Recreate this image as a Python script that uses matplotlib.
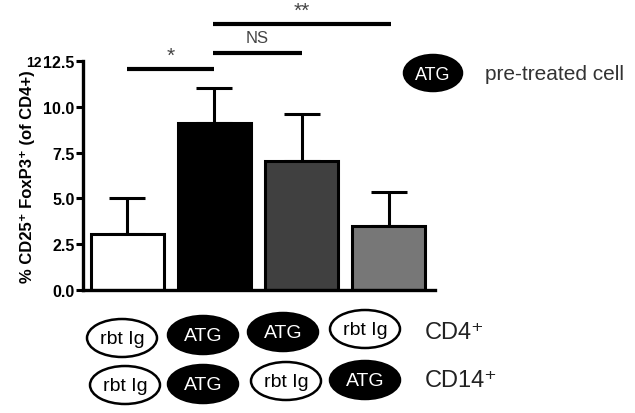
import numpy as np
import matplotlib.pyplot as plt
from matplotlib.patches import Ellipse

plt.rcParams['font.family'] = ['Liberation Sans', 'DejaVu Sans']

# data
means = [3.05, 9.1, 7.05, 3.5]
sems = [2.0, 1.95, 2.55, 1.85]
bar_colors = ['white', 'black', '#404040', '#777777']
cd4_treat = ['rbt Ig', 'ATG', 'ATG', 'rbt Ig']
cd14_treat = ['rbt Ig', 'ATG', 'rbt Ig', 'ATG']
yticks = [0.0, 2.5, 5.0, 7.5, 10.0, 12.5]

# significance brackets: (x start, x end, y, label)
sig = [(0, 1, 12.05, '*'), (0.98, 2.0, 12.95, 'NS'), (0.98, 3.03, 14.5, '**')]

fig = plt.figure(figsize=(6.35, 4.14), dpi=100)
ax = fig.add_axes([0.1307, 0.2971, 0.554, 0.553])
ax.patch.set_visible(False)

x = np.arange(len(means))
ax.errorbar(x, means, yerr=[np.zeros(len(sems)), sems], fmt='none', ecolor='black',
            elinewidth=2.2, capsize=13, capthick=2.2, zorder=1)
ax.bar(x, means, width=0.84, color=bar_colors, edgecolor='black', linewidth=2.2, zorder=2)

ax.set_xlim(-0.51, 3.53)
ax.set_ylim(0, 12.5)
ax.set_yticks(yticks)
ax.set_yticklabels(['%.1f' % t for t in yticks], fontsize=11.5, fontweight='bold')
ax.set_xticks([])
for s in ['top', 'right']:
    ax.spines[s].set_visible(False)
for s in ['left', 'bottom']:
    ax.spines[s].set_linewidth(2.4)
ax.tick_params(axis='y', width=2.2, length=5, pad=1)
ax.set_ylabel('% CD25\u207a FoxP3\u207a (of CD4+)', fontsize=12,
              fontweight='bold', labelpad=6)

for x0, x1, y, lab in sig:
    ax.plot([x0, x1], [y, y], color='black', lw=3, clip_on=False, solid_capstyle='butt')
    star = lab != 'NS'
    ax.text((x0 + x1) / 2, y + (0.25 if star else 0.45), lab, ha='center', va='bottom',
            fontsize=15 if star else 12, color='#444444', clip_on=False)

# overlay in pixel coordinates for the treatment ovals and legend
ov = fig.add_axes([0, 0, 1, 1], zorder=3)
ov.set_xlim(0, 635)
ov.set_ylim(414, 0)
ov.axis('off')

ov.text(34, 63, '12', fontsize=10, fontweight='bold', ha='center', va='center')

row1_x = [122, 203, 283, 365]
row1_y = [339, 336, 333, 330]
row2_x = [125, 203, 286, 365]
row2_y = [386, 385, 382, 381]

def oval(cx, cy, lab, w=70, h=38, fs=14):
    filled = lab == 'ATG'
    ov.add_patch(Ellipse((cx, cy), w, h, facecolor='black' if filled else 'white',
                         edgecolor='black', lw=1.8))
    ov.text(cx, cy + 1, lab, ha='center', va='center', fontsize=fs,
            color='white' if filled else 'black')

for cx, cy, lab in zip(row1_x, row1_y, cd4_treat):
    oval(cx, cy, lab)
for cx, cy, lab in zip(row2_x, row2_y, cd14_treat):
    oval(cx, cy, lab)

ov.text(425, 333, 'CD4\u207a', fontsize=17, ha='left', va='center', color='#222222')
ov.text(425, 381, 'CD14\u207a', fontsize=17, ha='left', va='center', color='#222222')

oval(433, 74, 'ATG', w=58, h=36, fs=13)
ov.text(485, 75, 'pre-treated cell', fontsize=15, ha='left', va='center', color='#333333')

fig.savefig('out.png', dpi=100)
